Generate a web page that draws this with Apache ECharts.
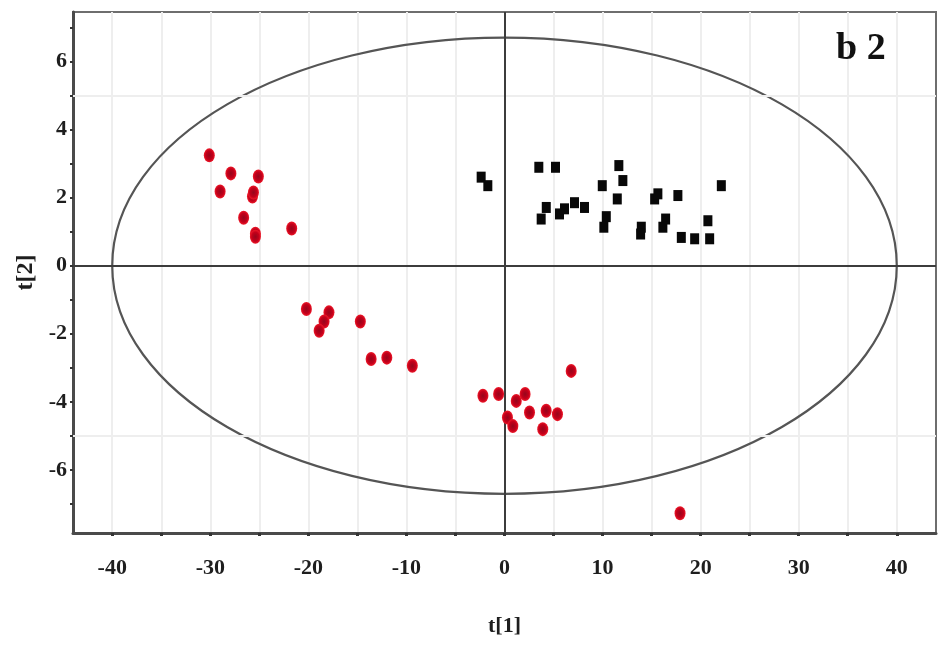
<!DOCTYPE html>
<html>
<head>
<meta charset="utf-8">
<title>OPLS-DA score plot b2</title>
<script src="https://cdn.jsdelivr.net/npm/echarts@6/dist/echarts.min.js"></script>
<style>
  html, body { margin: 0; padding: 0; background: #ffffff; }
  #chart { width: 951px; height: 647px; }
</style>
</head>
<body>
<div id="chart"></div>
<script>
// Scores of group 1 (red circles): t[1], t[2]
const group1T1 = [-30.1, -27.9, -25.1, -29.0, -25.7, -25.6, -26.6, -25.4, -25.4, -21.7,
                  -20.2, -17.9, -18.4, -18.9, -14.7, -13.6, -12.0, -9.4,
                  -2.2, -0.6, 1.2, 2.1, 0.3, 0.85, 2.55, 4.25, 5.4, 3.9, 6.8, 17.9];
const group1T2 = [3.24, 2.71, 2.62, 2.18, 2.03, 2.15, 1.41, 0.94, 0.85, 1.09,
                  -1.27, -1.37, -1.64, -1.91, -1.64, -2.74, -2.70, -2.94,
                  -3.82, -3.77, -3.97, -3.77, -4.46, -4.71, -4.31, -4.26, -4.36, -4.80, -3.09, -7.27];

// Scores of group 2 (black squares): t[1], t[2]
const group2T1 = [-2.38, -1.70, 3.50, 5.20, 4.26, 3.74, 5.61, 6.12, 7.14, 8.16,
                  9.97, 11.66, 12.07, 11.50, 10.38, 10.13, 13.95, 13.88, 15.31, 15.64,
                  17.68, 16.43, 16.15, 18.03, 19.39, 20.74, 20.92, 22.11];
const group2T2 = [2.60, 2.35, 2.89, 2.89, 1.71, 1.37, 1.52, 1.67, 1.85, 1.71,
                  2.35, 2.94, 2.50, 1.96, 1.44, 1.13, 1.13, 0.93, 1.96, 2.11,
                  2.06, 1.37, 1.13, 0.83, 0.79, 1.32, 0.79, 2.35];

// Hotelling's T2 ellipse semi-axes (t[1], t[2])
const ellipseT1 = 40;
const ellipseT2 = 6.7;

// Axis ticks and labels
const xTickValues = [-40, -35, -30, -25, -20, -15, -10, -5, 0, 5, 10, 15, 20, 25, 30, 35, 40];
const xLabelValues = [-40, -30, -20, -10, 0, 10, 20, 30, 40];
const yTickValues = [-7, -6, -5, -4, -3, -2, -1, 0, 1, 2, 3, 4, 5, 6, 7];
const yLabelValues = [-6, -4, -2, 0, 2, 4, 6];
const yGridValues = [-5, 5];

const pairs = (a, b) => a.map((v, i) => [v, b[i]]);

const serif = '"Liberation Serif", "DejaVu Serif", serif';
const labelStyle = { fontFamily: serif, fontWeight: 'bold', fontSize: 22, color: '#1e1e1e' };
const gridLineColor = '#eeeeee';

const chart = echarts.init(document.getElementById('chart'), null, { renderer: 'canvas' });

chart.setOption({
  backgroundColor: '#ffffff',
  animation: false,
  grid: {
    left: 73, right: 15, top: 12, bottom: 114,
    show: true, borderColor: '#6e6e6e', borderWidth: 2, backgroundColor: 'transparent'
  },
  xAxis: {
    type: 'value', min: -44, max: 44,
    name: 't[1]', nameLocation: 'middle', nameGap: 82,
    nameTextStyle: { fontFamily: serif, fontWeight: 'bold', fontSize: 22, color: '#1e1e1e' },
    axisLine: { show: true, onZero: false, lineStyle: { color: '#4a4a4a', width: 3 } },
    axisTick: { show: true, customValues: xTickValues, length: 3, inside: false,
                lineStyle: { color: '#333', width: 3 } },
    axisLabel: Object.assign({ customValues: xLabelValues, margin: 24 }, labelStyle),
    splitLine: { show: true, lineStyle: { color: gridLineColor, width: 2 } }
  },
  yAxis: {
    type: 'value', min: -7.85, max: 7.45,
    name: 't[2]', nameLocation: 'middle', nameGap: 34, nameRotate: 90,
    nameTextStyle: { fontFamily: serif, fontWeight: 'bold', fontSize: 24, color: '#1e1e1e' },
    axisLine: { show: true, onZero: false, lineStyle: { color: '#4a4a4a', width: 3 } },
    axisTick: { show: true, customValues: yTickValues, length: 3, inside: false,
                lineStyle: { color: '#333', width: 2 } },
    axisLabel: Object.assign({ customValues: yLabelValues, margin: 6 }, labelStyle),
    splitLine: { show: false }
  },
  graphic: [{
    type: 'text', left: 836, top: 30, z: 10,
    style: { text: 'b 2', font: 'bold 38px ' + serif, fill: '#111' }
  }],
  series: [
    {
      // reference lines: light grid at t[2] = ±5, dark lines through the origin
      type: 'line', data: [], silent: true,
      markLine: {
        silent: true, symbol: 'none', animation: false, label: { show: false },
        data: [
          ...yGridValues.map(v => ({ yAxis: v, lineStyle: { color: gridLineColor, width: 2, type: 'solid' } })),
          { xAxis: 0, lineStyle: { color: '#3c3c3c', width: 2, type: 'solid' } },
          { yAxis: 0, lineStyle: { color: '#3c3c3c', width: 2, type: 'solid' } }
        ]
      }
    },
    {
      type: 'custom', silent: true, z: 3,
      data: [[0, 0]],
      renderItem: function (params, api) {
        const c = api.coord([api.value(0), api.value(1)]);
        const p = api.coord([ellipseT1, ellipseT2]);
        return {
          type: 'ellipse',
          shape: { cx: c[0], cy: c[1], rx: p[0] - c[0], ry: c[1] - p[1] },
          style: { fill: 'none', stroke: '#555555', lineWidth: 2.2 }
        };
      }
    },
    {
      name: 'group 1', type: 'scatter', z: 5,
      symbol: 'circle', symbolSize: [11, 14],
      itemStyle: {
        opacity: 1,
        color: {
          type: 'radial', x: 0.5, y: 0.5, r: 0.5,
          colorStops: [{ offset: 0, color: '#96061c' }, { offset: 0.65, color: '#c4001a' }, { offset: 1, color: '#ee1a2a' }]
        }
      },
      data: pairs(group1T1, group1T2)
    },
    {
      name: 'group 2', type: 'scatter', z: 5,
      symbol: 'rect', symbolSize: [9, 11],
      itemStyle: { color: '#080808', opacity: 1 },
      data: pairs(group2T1, group2T2)
    }
  ]
});
</script>
</body>
</html>
